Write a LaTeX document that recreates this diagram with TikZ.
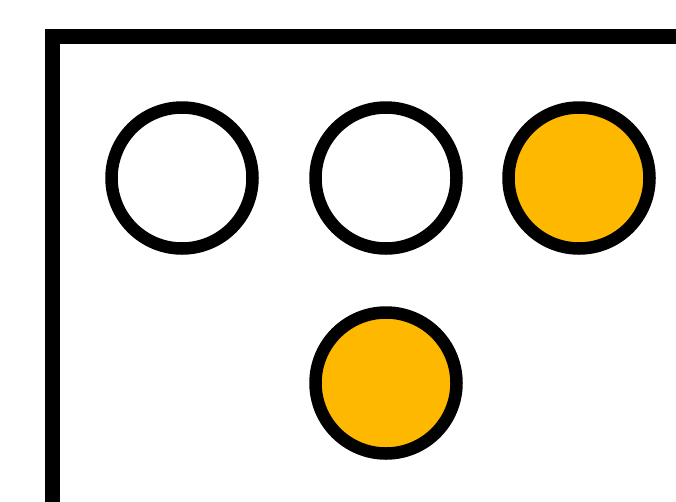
\documentclass[tikz,border=0pt]{standalone}
\definecolor{amber}{HTML}{FFB800}
\begin{document}
\begin{tikzpicture}[x=1pt,y=-1pt,
  lamp/.style={circle,draw=black,line width=12.5pt,inner sep=0pt,minimum size=141pt,fill=white},
  lampon/.style={lamp,fill=amber}]
\clip (0,0) rectangle (676,501);
\fill [white] (0,0) rectangle (676,501);
\coordinate (fb) at (52,520);
\coordinate (fc) at (52,36);
\coordinate (fr) at (700,36);
\draw [black,line width=15pt,line join=miter] (fb) -- (fc) -- (fr);
\node [lamp] (l1) at (182,178) {};
\node [lamp] (l2) at (386,178) {};
\node [lampon] (l3) at (579,178) {};
\node [lampon] (l4) at (386,383) {};
\end{tikzpicture}
\end{document}
